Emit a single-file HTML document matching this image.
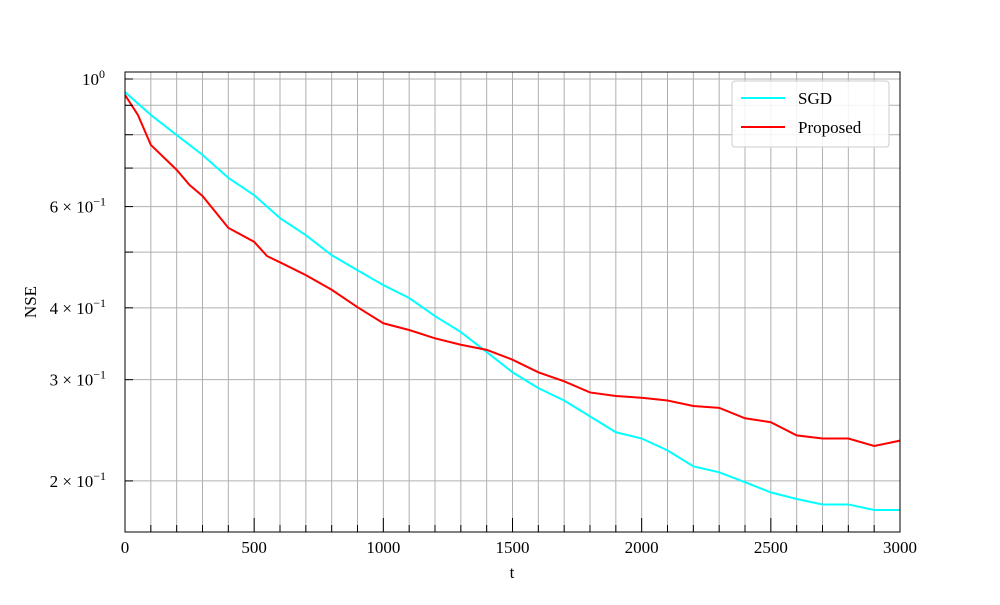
<!DOCTYPE html>
<html><head><meta charset="utf-8"><style>
body{margin:0;background:#fff}
svg text{font-family:"Liberation Serif","DejaVu Serif",serif;fill:#000}
</style></head><body>
<svg id="chart" width="1000" height="600" xmlns="http://www.w3.org/2000/svg">
<g id="grid"></g>
<g id="series"></g>
<rect x="125" y="72" width="775" height="460" fill="none" stroke="#000" stroke-width="1"/>
<g id="ticks"></g>
<text x="512" y="578" font-size="17" text-anchor="middle">t</text>
<text transform="translate(36,302) rotate(-90)" font-size="17" text-anchor="middle">NSE</text>
<g>
<rect x="732" y="81" width="157" height="66" rx="3" fill="#fff" fill-opacity="0.85" stroke="#ccc"/>
<line x1="741" y1="98" x2="785" y2="98" stroke="cyan" stroke-width="2"/>
<text x="798" y="104" font-size="17">SGD</text>
<line x1="741" y1="127" x2="785" y2="127" stroke="red" stroke-width="2"/>
<text x="798" y="133" font-size="17">Proposed</text>
</g>
</svg>
<script>
const sgdT=[0,100,200,300,400,500,600,700,800,900,1000,1100,1200,1300,1400,1500,1600,1700,1800,1900,2000,2100,2200,2300,2400,2500,2600,2700,2800,2900,3000];
const sgdV=[0.949,0.866,0.799,0.738,0.673,0.628,0.573,0.535,0.494,0.465,0.438,0.416,0.387,0.363,0.335,0.309,0.290,0.276,0.259,0.243,0.237,0.226,0.212,0.207,0.199,0.191,0.186,0.182,0.182,0.178,0.178];
const propT=[0,50,100,200,250,300,400,500,550,600,700,800,900,1000,1100,1200,1300,1400,1500,1600,1700,1800,1900,2000,2100,2200,2300,2400,2500,2600,2700,2800,2900,3000];
const propV=[0.938,0.866,0.768,0.695,0.654,0.626,0.551,0.521,0.492,0.480,0.456,0.430,0.401,0.376,0.366,0.354,0.345,0.338,0.325,0.309,0.298,0.285,0.281,0.279,0.276,0.270,0.268,0.257,0.253,0.240,0.237,0.237,0.230,0.235];
const xTicks=[0,500,1000,1500,2000,2500,3000];
const yMajor=[{v:1,m:"1",e:"0"},{v:0.6,m:"6 × 1",e:"−1"},{v:0.4,m:"4 × 1",e:"−1"},{v:0.3,m:"3 × 1",e:"−1"},{v:0.2,m:"2 × 1",e:"−1"}];
const yMinor=[0.5,0.7,0.8,0.9];
const NS="http://www.w3.org/2000/svg";
const X=t=>125+t/3000*775;
const Y=v=>79-Math.log10(v)*575;
function mk(tag,attrs,parent){const e=document.createElementNS(NS,tag);for(const k in attrs)e.setAttribute(k,attrs[k]);parent.appendChild(e);return e;}
const grid=document.getElementById('grid'),ticks=document.getElementById('ticks'),series=document.getElementById('series');
for(let t=0;t<=3000;t+=100){
 const l=mk('line',{x1:X(t),x2:X(t),y1:72,y2:532,stroke:'#b0b0b0','stroke-width':1},grid);
 
 
 const major=t%500===0;
 const tk=mk('line',{x1:X(t),x2:X(t),y1:532,y2:major?518:525,stroke:'#000'},ticks);
 
 
}
xTicks.forEach(t=>{const tx=mk('text',{x:X(t),y:553,'font-size':17,'text-anchor':'middle'},ticks);tx.textContent=t;
 
 });
const allY=yMajor.map(d=>d.v).concat(yMinor,[0.2,0.3,0.4]);
[...new Set(allY)].forEach(v=>{
 const l=mk('line',{x1:125,x2:900,y1:Y(v),y2:Y(v),stroke:'#b0b0b0'},grid);
 
 
 const tk=mk('line',{x1:125,x2:133,y1:Y(v),y2:Y(v),stroke:'#000'},ticks);
 
 
});
yMajor.forEach(d=>{
 const tx=mk('text',{x:d.v===1?105:106,y:Y(d.v)+6,'font-size':17,'text-anchor':'end'},ticks);
 
 
 tx.appendChild(document.createTextNode(d.m+"0"));
 const s=mk('tspan',{dy:-7,'font-size':12},tx);s.textContent=d.e;
});
function draw(T,V,color,name){
 const p=mk('polyline',{points:T.map((t,i)=>X(t)+","+Y(V[i])).join(" "),fill:'none',stroke:color,'stroke-width':2},series);
 
 
}
draw(sgdT,sgdV,'cyan','sgd-line');
draw(propT,propV,'red','proposed-line');
</script>
</body></html>
